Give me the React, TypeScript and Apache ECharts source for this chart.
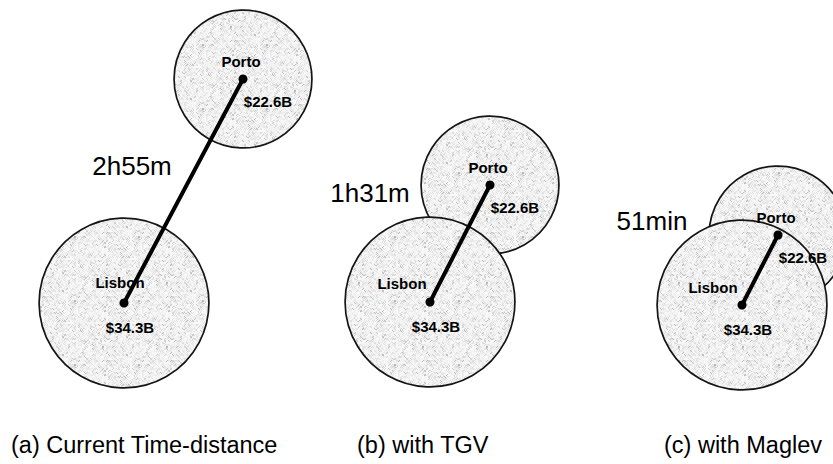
import React, { useEffect, useRef } from "react";
import * as echarts from "echarts";

// ---- data ----
const PANELS = ["(a) Current Time-distance", "(b) with TGV", "(c) with Maglev"];
const TRAVEL_TIMES = ["2h55m", "1h31m", "51min"];
const CITIES = ["Lisbon", "Porto"];
const GDP_BILLIONS = [34.3, 22.6];
const GDP_LABELS = ["$34.3B", "$22.6B"];
// city positions in each time-distance map (diagram units)
const LISBON_X = [124, 430, 742];
const LISBON_Y = [303, 302, 305];
const PORTO_X = [243, 490, 778];
const PORTO_Y = [79, 185, 235];

// ---- layout (annotations) ----
const TIME_LABEL_POS = [
  [132, 166],
  [370, 193],
  [652, 221],
];
const CAPTION_POS = [
  [11, 445],
  [357, 445],
  [664, 445],
];
const RADIUS_PER_SQRT_GDP = 14.5;
const LISBON_NAME_OFFSET = [
  [-4, -21],
  [-28, -19],
  [-29, -18],
];

const FONT = "'Liberation Sans', Arial, Helvetica, sans-serif";
const INK = "#000";

// grainy paper-like texture for the circle fill (deterministic speckle)
function makeGrain(): HTMLCanvasElement {
  const size = 64;
  const cell = 2;
  const cv = document.createElement("canvas");
  cv.width = size;
  cv.height = size;
  const ctx = cv.getContext("2d")!;
  const img = ctx.createImageData(size, size);
  for (let y = 0; y < size; y++) {
    for (let x = 0; x < size; x++) {
      const cx = Math.floor(x / cell);
      const cy = Math.floor(y / cell);
      let h = (cx * 374761393 + cy * 668265263 + ((x + y) & 1) * 1442695041) | 0;
      h = Math.imul(h ^ (h >>> 13), 1274126177);
      h = (h ^ (h >>> 16)) >>> 0;
      const t = h % 100;
      const g = t < 8 ? 185 + (h % 35) : t < 32 ? 220 + (h % 14) : 238 + (h % 14);
      const k = (y * size + x) * 4;
      img.data[k] = g;
      img.data[k + 1] = g;
      img.data[k + 2] = g;
      img.data[k + 3] = 255;
    }
  }
  ctx.putImageData(img, 0, 0);
  return cv;
}

export default function App() {
  const ref = useRef<HTMLDivElement>(null);
  useEffect(() => {
    if (!ref.current) return;
    const chart = echarts.init(ref.current, undefined, { renderer: "svg" });
    const grain = makeGrain();

    const circleData: number[][] = [];
    const linkData: number[][] = [];
    const dotData: number[][] = [];
    const nameData: any[] = [];
    const valueData: any[] = [];
    for (let i = 0; i < PANELS.length; i++) {
      const xs = [LISBON_X[i], PORTO_X[i]];
      const ys = [LISBON_Y[i], PORTO_Y[i]];
      // Porto first so that Lisbon is drawn on top
      for (const c of [1, 0]) {
        circleData.push([xs[c], ys[c], RADIUS_PER_SQRT_GDP * Math.sqrt(GDP_BILLIONS[c])]);
      }
      linkData.push([xs[0], ys[0], xs[1], ys[1]]);
      for (const c of [0, 1]) {
        dotData.push([xs[c], ys[c]]);
        nameData.push({
          value: [xs[c], ys[c]],
          name: CITIES[c],
          label: { offset: c === 0 ? LISBON_NAME_OFFSET[i] : [-2, -18] },
        });
        valueData.push({
          value: [xs[c], ys[c]],
          name: GDP_LABELS[c],
          label: { offset: c === 0 ? [6, 24] : [25, 22] },
        });
      }
    }

    const smallLabel = {
      show: true,
      position: "inside",
      formatter: "{b}",
      color: INK,
      opacity: 1,
      fontFamily: FONT,
      fontSize: 15,
      fontWeight: "bold",
    };
    const textOnly = { opacity: 1, color: "transparent" };

    chart.setOption({
      animation: false,
      backgroundColor: "#fff",
      grid: { left: 0, right: 0, top: 0, bottom: 0 },
      xAxis: { type: "value", min: 0, max: 833, show: false },
      yAxis: { type: "value", min: 0, max: 464, inverse: true, show: false },
      series: [
        {
          type: "custom",
          name: "circles",
          data: circleData,
          silent: true,
          renderItem: (params: any, api: any) => {
            const c = api.coord([api.value(0), api.value(1)]);
            const r = api.size([api.value(2), 0])[0];
            return {
              type: "circle",
              shape: { cx: c[0], cy: c[1], r },
              style: {
                fill: { image: grain, repeat: "repeat" },
                stroke: "#151515",
                lineWidth: 1.7,
              },
            };
          },
        },
        {
          type: "custom",
          name: "links",
          data: linkData,
          silent: true,
          z: 3,
          renderItem: (params: any, api: any) => {
            const a = api.coord([api.value(0), api.value(1)]);
            const b = api.coord([api.value(2), api.value(3)]);
            return {
              type: "line",
              shape: { x1: a[0], y1: a[1], x2: b[0], y2: b[1] },
              style: { stroke: "#000", lineWidth: 4, lineCap: "round" },
            };
          },
        },
        {
          type: "scatter",
          name: "dots",
          data: dotData,
          symbolSize: 9,
          itemStyle: { color: "#000", opacity: 1 },
          z: 4,
        },
        {
          type: "scatter",
          name: "names",
          data: nameData,
          symbolSize: 0,
          itemStyle: textOnly,
          label: smallLabel,
          z: 5,
        },
        {
          type: "scatter",
          name: "values",
          data: valueData,
          symbolSize: 0,
          itemStyle: textOnly,
          label: smallLabel,
          z: 5,
        },
        {
          type: "scatter",
          name: "times",
          data: TRAVEL_TIMES.map((t, i) => ({ value: TIME_LABEL_POS[i], name: t })),
          symbolSize: 0,
          itemStyle: textOnly,
          label: {
            show: true,
            position: "inside",
            formatter: "{b}",
            color: INK,
            opacity: 1,
            fontFamily: FONT,
            fontSize: 26,
          },
          z: 5,
        },
        {
          type: "scatter",
          name: "captions",
          data: PANELS.map((t, i) => ({ value: CAPTION_POS[i], name: t })),
          symbolSize: 0,
          itemStyle: textOnly,
          label: {
            show: true,
            position: "inside",
            align: "left",
            formatter: "{b}",
            color: INK,
            opacity: 1,
            fontFamily: FONT,
            fontSize: 23.5,
          },
          z: 5,
        },
      ],
    });
    return () => chart.dispose();
  }, []);
  return (
    <div
      ref={ref}
      style={{ position: "fixed", left: 0, top: 0, width: 833, height: 464 }}
    />
  );
}
